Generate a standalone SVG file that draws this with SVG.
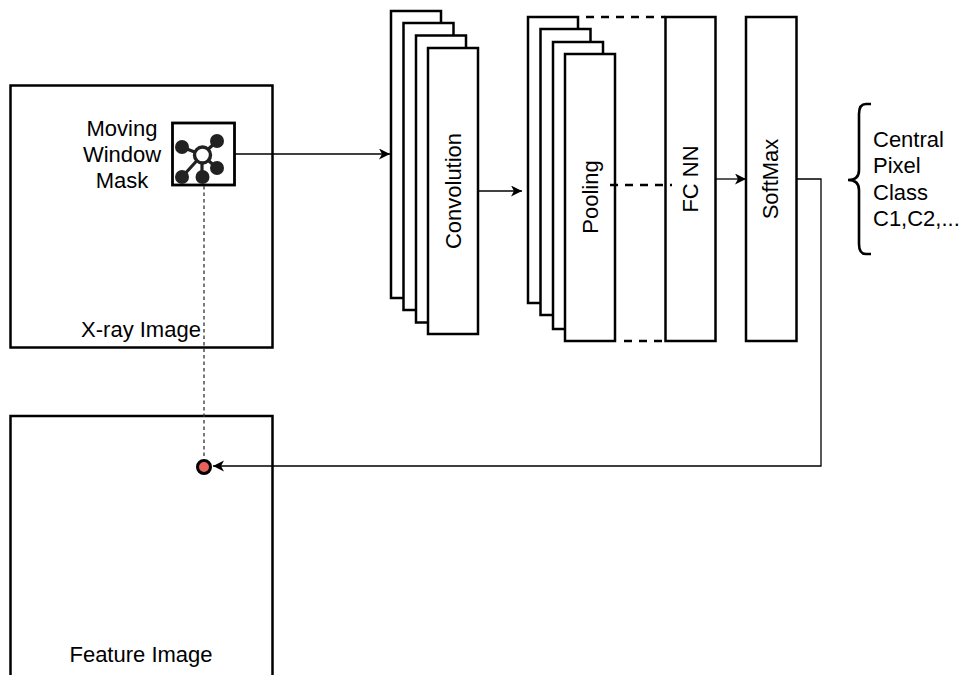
<svg xmlns="http://www.w3.org/2000/svg" width="959" height="675" viewBox="0 0 959 675">
<style>
.b{fill:#fff;stroke:#000;stroke-width:2.5}
.t{font-family:"Liberation Sans",Arial,sans-serif;font-size:22px;fill:#000}
.c{fill:none;stroke:#000;stroke-width:1.300}
.d{fill:none;stroke:#000;stroke-width:2.500;stroke-dasharray:8 7}
</style>
<defs>
<marker id="a" markerWidth="12" markerHeight="12" refX="11" refY="5.500" orient="auto" markerUnits="userSpaceOnUse"><path d="M0 0L11 5.500L0 11L3 5.500Z" fill="#000"/></marker>
</defs>
<rect x="0" y="0" width="959" height="675" fill="#fff"/>
<g id="xray"><rect class="b" x="10.500" y="85.500" width="262" height="262"/><text class="t" x="141" y="337" text-anchor="middle">X-ray Image</text></g>
<g id="feature"><path class="b" d="M10.500 675V416H272.500V675"/><text class="t" x="141" y="662" text-anchor="middle">Feature Image</text></g>
<g id="mask">
<text class="t" x="122" y="136" text-anchor="middle">Moving</text><text class="t" x="122" y="162" text-anchor="middle">Window</text><text class="t" x="122" y="188" text-anchor="middle">Mask</text>
<rect x="172.500" y="123" width="62" height="62" fill="#fff" stroke="#000" stroke-width="2.800"/>
<path d="M182 147L202 155M217 141L202 155M202 155L217 168M202 155L182 177M202 155V177" stroke="#222" stroke-width="3.200" fill="none"/>
<g fill="#222"><circle cx="182" cy="147" r="7"/><circle cx="217" cy="141" r="7"/><circle cx="217" cy="168" r="7"/><circle cx="182" cy="177" r="7"/><circle cx="202.500" cy="177" r="7"/></g>
<circle cx="202.500" cy="155" r="8" fill="#fff" stroke="#222" stroke-width="3.400"/>
</g>
<g id="convolution">
<rect class="b" x="391" y="11" width="50" height="287"/><rect class="b" x="403.500" y="23" width="50" height="287"/><rect class="b" x="416" y="35.500" width="50" height="287"/><rect class="b" x="428" y="48" width="50" height="286"/>
<text class="t" transform="translate(460.500 191) rotate(-90)" text-anchor="middle">Convolution</text>
</g>
<g id="pooling">
<rect class="b" x="528" y="17" width="50" height="286"/><rect class="b" x="540.500" y="29" width="50" height="286"/><rect class="b" x="553" y="42" width="50" height="287"/><rect class="b" x="565" y="54" width="50" height="287"/>
<text class="t" transform="translate(598 197) rotate(-90)" text-anchor="middle">Pooling</text>
</g>
<g id="fcnn"><rect class="b" x="665.500" y="17" width="50" height="324"/><text class="t" transform="translate(698 179) rotate(-90)" text-anchor="middle">FC NN</text></g>
<g id="softmax"><rect class="b" x="746" y="17" width="50.500" height="324"/><text class="t" transform="translate(778 179) rotate(-90)" text-anchor="middle">SoftMax</text></g>
<g id="output">
<path d="M871 104H866Q859 104 859 114V170Q859 180 848 180Q859 180 859 190V244Q859 254 866 254H871" fill="none" stroke="#000" stroke-width="2.600"/>
<text class="t" x="873" y="147">Central</text><text class="t" x="873" y="173">Pixel</text><text class="t" x="873" y="200">Class</text><text class="t" x="873" y="226">C1,C2,...</text>
</g>
<g id="connectors">
<path class="c" d="M235 154H390" marker-end="url(#a)"/>
<path class="c" d="M478 191H522" marker-end="url(#a)"/>
<path class="c" d="M715 179H746" marker-end="url(#a)"/>
<path class="c" d="M796 179H821V466H213" marker-end="url(#a)"/>
<path d="M204 186V460" fill="none" stroke="#333" stroke-width="1.300" stroke-dasharray="3.500 3"/>
<path class="d" d="M586 17H665M624 341H665M610 185H672"/>
</g>
<g id="dot"><circle cx="204" cy="467" r="6.500" fill="#e8605c" stroke="#000" stroke-width="3"/></g>
</svg>
